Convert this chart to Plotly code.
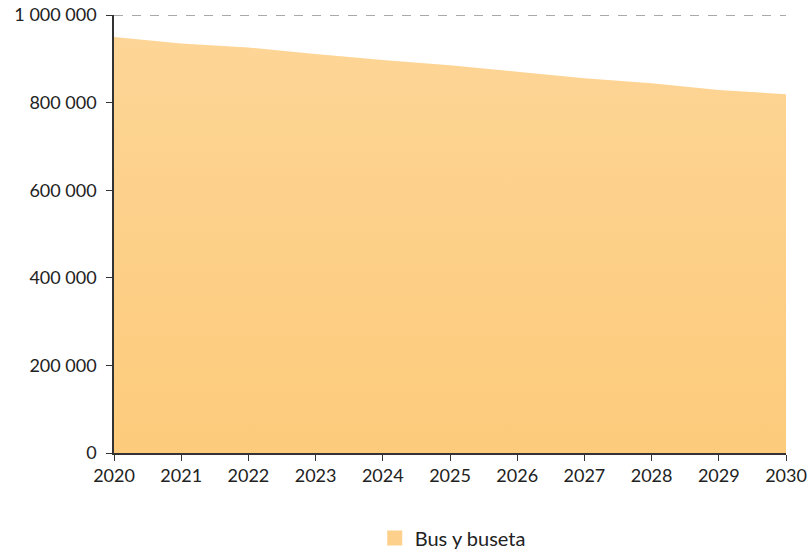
import plotly.graph_objects as go

years = [2020, 2021, 2022, 2023, 2024, 2025, 2026, 2027, 2028, 2029, 2030]
bus_y_buseta = [950000, 935000, 926000, 911000, 897000, 885000, 870500, 855500, 844000, 829000, 819000]
y_ticks = [0, 200000, 400000, 600000, 800000, 1000000]
series_name = "Bus y buseta"

fig = go.Figure()
fig.add_trace(go.Scatter(
    x=years, y=bus_y_buseta, name=series_name, mode="none",
    fill="tozeroy", showlegend=False, legendgroup="bus",
    fillcolor="#fdd18c",
    fillgradient=dict(type="vertical",
                      colorscale=[[0, "#fdcb7b"], [1, "#fdd596"]]),
))
# legend swatch only (square like the reference)
fig.add_trace(go.Scatter(x=[None], y=[None], name=series_name, legendgroup="bus",
                         mode="markers",
                         marker=dict(symbol="square", size=15, color="#fdd18c",
                                     line=dict(width=0))))
fig.add_shape(type="line", xref="paper", yref="y", x0=0, x1=1, y0=1000000, y1=1000000,
              line=dict(color="#555555", width=1, dash="dash"))
fig.update_layout(
    width=812, height=550,
    margin=dict(l=114, r=26, t=15, b=97, autoexpand=False),
    paper_bgcolor="white", plot_bgcolor="white",
    separators=". ",
    font=dict(family="Lato", size=18, color="#222222"),
    showlegend=True,
    legend=dict(orientation="h", x=0.388, xanchor="left", y=-0.194, yanchor="middle",
                font=dict(size=20, color="#222222"), itemwidth=30),
    xaxis=dict(range=[2020, 2030], tickvals=years, showgrid=False, zeroline=False,
               showline=True, linecolor="#333333", linewidth=1.5, automargin=False,
               ticks="outside", ticklen=6, tickcolor="#333333",
               ticklabeloverflow="allow"),
    yaxis=dict(range=[0, 1000000], tickvals=y_ticks, tickformat=",d", showgrid=False,
               zeroline=False, showline=True, linecolor="#333333", linewidth=1.5,
               automargin=False, ticks="outside", ticklen=6, tickcolor="#333333",
               ticklabelstandoff=6, ticklabeloverflow="allow"),
)
fig.write_html("out.html", config={"displayModeBar": False},
               post_script="document.body.style.margin='0px';")
